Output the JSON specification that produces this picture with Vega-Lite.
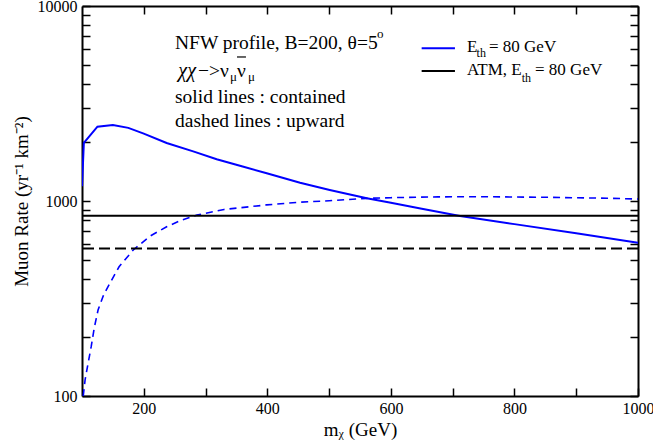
{
  "$schema": "https://vega.github.io/schema/vega-lite/v6.json",
  "width": 556,
  "height": 390,
  "autosize": {"type": "none"},
  "padding": {"left": 82, "top": 6, "right": 15, "bottom": 50},
  "background": "white",
  "config": {
    "view": {"stroke": null},
    "axis": {
      "domainColor": "black",
      "domainWidth": 2,
      "ticks": true,
      "tickColor": "black",
      "tickWidth": 1.5,
      "tickSize": -8,
      "grid": false,
      "labelFont": "Liberation Serif",
      "labelFontSize": 16,
      "labelColor": "black",
      "titleFont": "Liberation Serif",
      "titleFontSize": 19,
      "titleFontWeight": "normal",
      "titleColor": "black",
      "labelOverlap": false,
      "labelFlush": false
    },
    "text": {"font": "Liberation Serif", "color": "black"}
  },
  "datasets": {
    "contained": [
      {"m": 100, "rate": 1191}, {"m": 103, "rate": 1989}, {"m": 125, "rate": 2404},
      {"m": 150, "rate": 2455}, {"m": 175, "rate": 2372}, {"m": 200, "rate": 2217},
      {"m": 237, "rate": 1983}, {"m": 280, "rate": 1797}, {"m": 318, "rate": 1636},
      {"m": 360, "rate": 1502}, {"m": 399, "rate": 1387}, {"m": 453, "rate": 1241},
      {"m": 501, "rate": 1139}, {"m": 561, "rate": 1033}, {"m": 600, "rate": 979},
      {"m": 650, "rate": 912}, {"m": 712, "rate": 838}, {"m": 800, "rate": 761},
      {"m": 900, "rate": 684}, {"m": 1000, "rate": 611}
    ],
    "upward": [
      {"m": 102, "rate": 100}, {"m": 105, "rate": 121}, {"m": 110, "rate": 148},
      {"m": 115, "rate": 180}, {"m": 120, "rate": 225}, {"m": 126, "rate": 276},
      {"m": 135, "rate": 330}, {"m": 145, "rate": 378}, {"m": 160, "rate": 460},
      {"m": 183, "rate": 561}, {"m": 210, "rate": 660}, {"m": 237, "rate": 738},
      {"m": 260, "rate": 795}, {"m": 286, "rate": 847}, {"m": 330, "rate": 905},
      {"m": 399, "rate": 955}, {"m": 450, "rate": 985}, {"m": 500, "rate": 1003},
      {"m": 561, "rate": 1032}, {"m": 600, "rate": 1040}, {"m": 676, "rate": 1050},
      {"m": 750, "rate": 1052}, {"m": 850, "rate": 1045}, {"m": 950, "rate": 1033},
      {"m": 1000, "rate": 1024}
    ],
    "atm_contained": [{"rate": 841}],
    "atm_upward": [{"rate": 570}],
    "legend_lines": [
      {"series": "signal", "x": 649.8, "x2": 703.7, "y": 6066},
      {"series": "atm", "x": 649.8, "x2": 703.7, "y": 4642}
    ],
    "legend_text": [
      {"t": "E", "x": 723, "y": 5789},
      {"t": "= 80 GeV", "x": 758.8, "y": 5789},
      {"t": "ATM, E", "x": 723, "y": 4426},
      {"t": "= 80 GeV", "x": 833.3, "y": 4426}
    ],
    "legend_sub": [
      {"t": "th", "x": 738.7, "y": 5477},
      {"t": "th", "x": 811.7, "y": 4074}
    ],
    "note_text": [
      {"t": "NFW profile, B=200, θ=5", "x": 250.5, "y": 6018},
      {"t": "ν", "x": 323.4, "y": 4325},
      {"t": "ν", "x": 350.9, "y": 4325},
      {"t": "solid lines : contained", "x": 250.5, "y": 3182},
      {"t": "dashed lines : upward", "x": 250.5, "y": 2396}
    ],
    "note_chi": [{"t": "χχ", "x": 284.5, "y": 4325}],
    "note_arrow": [{"t": "−>", "x": 323.4, "y": 4325}],
    "note_small": [
      {"t": "o", "x": 577.5, "y": 6855},
      {"t": "μ", "x": 339.6, "y": 4121},
      {"t": "μ", "x": 368.7, "y": 4121}
    ],
    "note_bar": [{"x": 350.9, "x2": 365.4, "y": 5477}]
  },
  "layer": [
    {
      "data": {"name": "contained"},
      "mark": {"type": "line", "color": "#0000ff", "strokeWidth": 2, "clip": true},
      "encoding": {
        "x": {
          "field": "m", "type": "quantitative",
          "scale": {"domain": [100, 1000], "nice": false, "zero": false},
          "axis": {
            "orient": "bottom",
            "values": [200, 300, 400, 500, 600, 700, 800, 900, 1000],
            "format": "d",
            "labelExpr": "datum.value % 200 == 0 ? datum.label : ''",
            "labelPadding": 12,
            "title": "mᵪ (GeV)",
            "titlePadding": 4
          }
        },
        "y": {
          "field": "rate", "type": "quantitative",
          "scale": {"type": "log", "domain": [100, 10000], "nice": false},
          "axis": {
            "orient": "left",
            "values": [100, 200, 300, 400, 500, 600, 700, 800, 900, 1000, 2000, 3000, 4000, 5000, 6000, 7000, 8000, 9000, 10000],
            "format": "d",
            "labelExpr": "(datum.value == 100 || datum.value == 1000 || datum.value == 10000) ? datum.label : ''",
            "labelPadding": 13,
            "title": "Muon Rate (yr⁻¹ km⁻²)",
            "titlePadding": 6
          }
        }
      }
    },
    {
      "data": {"name": "upward"},
      "mark": {"type": "line", "color": "#0000ff", "strokeWidth": 1.6, "strokeDash": [7, 5], "clip": true},
      "encoding": {
        "x": {
          "field": "m", "type": "quantitative",
          "scale": {"domain": [100, 1000], "nice": false, "zero": false},
          "axis": {
            "orient": "top",
            "values": [200, 300, 400, 500, 600, 700, 800, 900, 1000],
            "labels": false,
            "title": null
          }
        },
        "y": {
          "field": "rate", "type": "quantitative",
          "scale": {"type": "log", "domain": [100, 10000], "nice": false},
          "axis": {
            "orient": "right",
            "values": [100, 200, 300, 400, 500, 600, 700, 800, 900, 1000, 2000, 3000, 4000, 5000, 6000, 7000, 8000, 9000, 10000],
            "labels": false,
            "title": null
          }
        }
      }
    },
    {
      "data": {"name": "atm_contained"},
      "mark": {"type": "rule", "color": "black", "strokeWidth": 2},
      "encoding": {
        "y": {"field": "rate", "type": "quantitative", "scale": {"type": "log", "domain": [100, 10000], "nice": false}, "axis": null}
      }
    },
    {
      "data": {"name": "atm_upward"},
      "mark": {"type": "rule", "color": "black", "strokeWidth": 2, "strokeDash": [11, 5]},
      "encoding": {
        "y": {"field": "rate", "type": "quantitative", "scale": {"type": "log", "domain": [100, 10000], "nice": false}, "axis": null}
      }
    },
    {
      "data": {"name": "legend_lines"},
      "mark": {"type": "rule", "strokeWidth": 2},
      "encoding": {
        "x": {"field": "x", "type": "quantitative", "axis": null},
        "x2": {"field": "x2"},
        "y": {"field": "y", "type": "quantitative", "axis": null},
        "color": {"field": "series", "type": "nominal", "scale": {"domain": ["signal", "atm"], "range": ["#0000ff", "black"]}, "legend": null}
      }
    },
    {
      "data": {"name": "legend_text"},
      "mark": {"type": "text", "align": "left", "baseline": "alphabetic", "fontSize": 17},
      "encoding": {
        "x": {"field": "x", "type": "quantitative", "axis": null},
        "y": {"field": "y", "type": "quantitative", "axis": null},
        "text": {"field": "t"}
      }
    },
    {
      "data": {"name": "legend_sub"},
      "mark": {"type": "text", "align": "left", "baseline": "alphabetic", "fontSize": 12},
      "encoding": {
        "x": {"field": "x", "type": "quantitative", "axis": null},
        "y": {"field": "y", "type": "quantitative", "axis": null},
        "text": {"field": "t"}
      }
    },
    {
      "data": {"name": "note_text"},
      "mark": {"type": "text", "align": "left", "baseline": "alphabetic", "fontSize": 19.5},
      "encoding": {
        "x": {"field": "x", "type": "quantitative", "axis": null},
        "y": {"field": "y", "type": "quantitative", "axis": null},
        "text": {"field": "t"}
      }
    },
    {
      "data": {"name": "note_chi"},
      "mark": {"type": "text", "align": "right", "baseline": "alphabetic", "fontSize": 20, "fontStyle": "italic"},
      "encoding": {
        "x": {"field": "x", "type": "quantitative", "axis": null},
        "y": {"field": "y", "type": "quantitative", "axis": null},
        "text": {"field": "t"}
      }
    },
    {
      "data": {"name": "note_arrow"},
      "mark": {"type": "text", "align": "right", "baseline": "alphabetic", "fontSize": 19.5},
      "encoding": {
        "x": {"field": "x", "type": "quantitative", "axis": null},
        "y": {"field": "y", "type": "quantitative", "axis": null},
        "text": {"field": "t"}
      }
    },
    {
      "data": {"name": "note_small"},
      "mark": {"type": "text", "align": "left", "baseline": "alphabetic", "fontSize": 13},
      "encoding": {
        "x": {"field": "x", "type": "quantitative", "axis": null},
        "y": {"field": "y", "type": "quantitative", "axis": null},
        "text": {"field": "t"}
      }
    },
    {
      "data": {"name": "note_bar"},
      "mark": {"type": "rule", "color": "black", "strokeWidth": 1.2},
      "encoding": {
        "x": {"field": "x", "type": "quantitative", "axis": null},
        "x2": {"field": "x2"},
        "y": {"field": "y", "type": "quantitative", "axis": null}
      }
    }
  ],
  "resolve": {"axis": {"x": "independent", "y": "independent"}}
}
